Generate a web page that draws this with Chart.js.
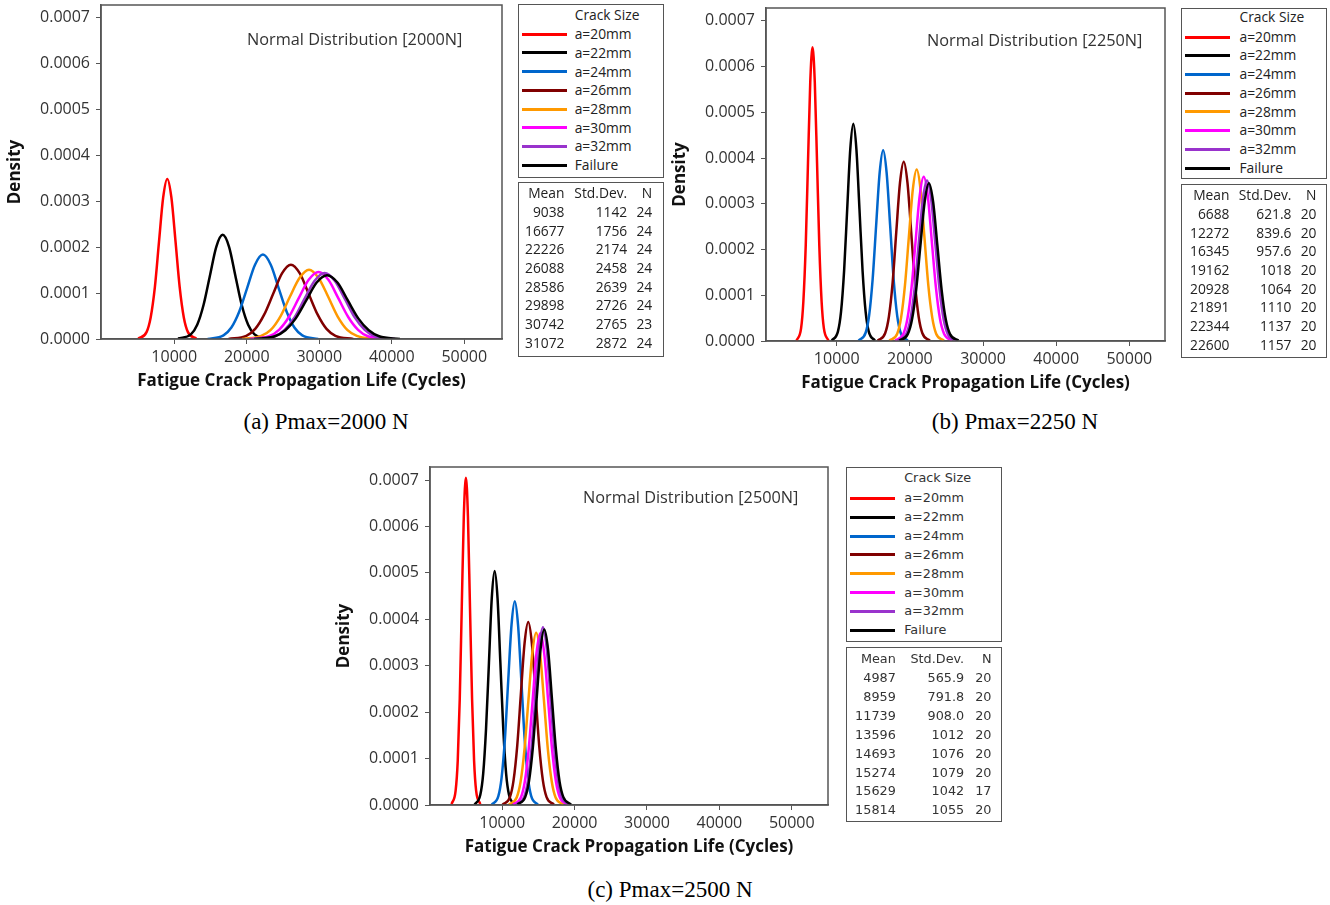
<!DOCTYPE html>
<html lang="en">
<head>
<meta charset="UTF-8">
<title>Normal Distribution - Fatigue Crack Propagation Life</title>
<script src="https://cdn.jsdelivr.net/npm/chart.js"></script>
<style>
    html, body { margin: 0; padding: 0; background: #fff; }
    body { width: 1330px; height: 905px; position: relative; overflow: hidden; font-family: "Open Sans", sans-serif; }
    canvas { position: absolute; }
    .note { position: absolute; font-size: 16.3px; color: #333; white-space: nowrap; line-height: 20px; }
    .box { position: absolute; border: 1.5px solid #555; box-sizing: border-box; background: #fff; }
    .cell { position: absolute; height: 18px; line-height: 18px; font-size: 13.8px; color: #222; white-space: nowrap; }
    .sw { position: absolute; height: 3px; }
    .caption { position: absolute; font-family: "Liberation Serif", serif; font-size: 23px; color: #000; white-space: nowrap; transform: translate(-50%, -50%); }
</style>
</head>
<body>

<canvas id="chart2000" width="515" height="400" style="left:0px; top:0px;"></canvas>
<canvas id="chart2250" width="515" height="402" style="left:665px; top:0px;"></canvas>
<canvas id="chart2500" width="515" height="405" style="left:329px; top:461px;"></canvas>

<div class="note" style="left:247px; top:29px;">Normal Distribution [2000N]</div>
<div class="note" style="left:927px; top:30px;">Normal Distribution [2250N]</div>
<div class="note" style="left:583px; top:487px;">Normal Distribution [2500N]</div>

<div id="legend2000" class="box" style="left:517.7px; top:4px; width:146.3px; height:174.3px;"></div>
<div id="table2000" class="box" style="left:517.7px; top:182.3px; width:146.3px; height:174.4px;"></div>
<div id="legend2250" class="box" style="left:1181.3px; top:7.7px; width:145.7px; height:171.6px;"></div>
<div id="table2250" class="box" style="left:1181.3px; top:184.3px; width:145.7px; height:174px;"></div>
<div id="legend2500" class="box" style="left:846px; top:466.7px; width:156px; height:175.3px;"></div>
<div id="table2500" class="box" style="left:846px; top:646.7px; width:156px; height:175px;"></div>

<div class="caption" style="left:326px; top:422px;">(a) Pmax=2000 N</div>
<div class="caption" style="left:1015px; top:422px;">(b) Pmax=2250 N</div>
<div class="caption" style="left:670px; top:890px;">(c) Pmax=2500 N</div>

<script>
// series names and tick values
const crackSizes = ['a=20mm', 'a=22mm', 'a=24mm', 'a=26mm', 'a=28mm', 'a=30mm', 'a=32mm', 'Failure'];
const xTicks = [10000, 20000, 30000, 40000, 50000];
const yTicks = [0, 0.0001, 0.0002, 0.0003, 0.0004, 0.0005, 0.0006, 0.0007];

// Pmax = 2000 N : cycles and density
const life2000 = [
    [5040, 6180, 6750, 7330, 7900, 8470, 9040, 9610, 10180, 10750, 11320, 11890, 13040],
    [10530, 12290, 13170, 14040, 14920, 15800, 16680, 17560, 18430, 19310, 20190, 21070, 22820],
    [14620, 16790, 17880, 18970, 20050, 21140, 22230, 23310, 24400, 25490, 26570, 27660, 29840],
    [17490, 19940, 21170, 22400, 23630, 24860, 26090, 27320, 28550, 29780, 31000, 32230, 34690],
    [19350, 21990, 23310, 24630, 25950, 27270, 28590, 29910, 31230, 32540, 33860, 35180, 37820],
    [20360, 23080, 24450, 25810, 27170, 28540, 29900, 31260, 32620, 33990, 35350, 36710, 39440],
    [21060, 23830, 25210, 26590, 27980, 29360, 30740, 32130, 33510, 34890, 36270, 37660, 40420],
    [21020, 23890, 25330, 26760, 28200, 29640, 31070, 32510, 33940, 35380, 36820, 38250, 41120]
];
const density2000 = [
    [0.000001, 0.000015, 0.000047, 0.000113, 0.000212, 0.000308, 0.000349, 0.000308, 0.000212, 0.000113, 0.000047, 0.000015, 0.000001],
    [0.000001, 0.000010, 0.000031, 0.000074, 0.000138, 0.000201, 0.000227, 0.000201, 0.000138, 0.000074, 0.000031, 0.000010, 0.000001],
    [0, 0.000008, 0.000025, 0.000060, 0.000111, 0.000162, 0.000184, 0.000162, 0.000111, 0.000060, 0.000025, 0.000008, 0],
    [0, 0.000007, 0.000022, 0.000053, 0.000098, 0.000143, 0.000162, 0.000143, 0.000098, 0.000053, 0.000022, 0.000007, 0],
    [0, 0.000007, 0.000020, 0.000049, 0.000092, 0.000133, 0.000151, 0.000133, 0.000092, 0.000049, 0.000020, 0.000007, 0],
    [0, 0.000006, 0.000020, 0.000048, 0.000089, 0.000129, 0.000146, 0.000129, 0.000089, 0.000048, 0.000020, 0.000006, 0],
    [0, 0.000006, 0.000020, 0.000047, 0.000088, 0.000127, 0.000144, 0.000127, 0.000088, 0.000047, 0.000020, 0.000006, 0],
    [0, 0.000006, 0.000019, 0.000045, 0.000084, 0.000123, 0.000139, 0.000123, 0.000084, 0.000045, 0.000019, 0.000006, 0]
];
const mean2000 = ['9038', '16677', '22226', '26088', '28586', '29898', '30742', '31072'];
const std2000 = ['1142', '1756', '2174', '2458', '2639', '2726', '2765', '2872'];
const n2000 = ['24', '24', '24', '24', '24', '24', '23', '24'];

// Pmax = 2250 N
const life2250 = [
    [4510, 5130, 5440, 5760, 6070, 6380, 6690, 7000, 7310, 7620, 7930, 8240, 8860],
    [9330, 10170, 10590, 11010, 11430, 11850, 12270, 12690, 13110, 13530, 13950, 14370, 15210],
    [12990, 13950, 14430, 14910, 15390, 15870, 16345, 16820, 17300, 17780, 18260, 18740, 19700],
    [15600, 16620, 17130, 17640, 18140, 18650, 19160, 19670, 20180, 20690, 21200, 21710, 22730],
    [17200, 18270, 18800, 19330, 19860, 20400, 20930, 21460, 21990, 22520, 23060, 23590, 24650],
    [18010, 19120, 19670, 20230, 20780, 21340, 21890, 22450, 23000, 23560, 24110, 24670, 25780],
    [18360, 19500, 20070, 20640, 21210, 21780, 22340, 22910, 23480, 24050, 24620, 25190, 26320],
    [18550, 19710, 20290, 20860, 21440, 22020, 22600, 23180, 23760, 24340, 24910, 25490, 26650]
];
const density2250 = [
    [0.000001, 0.000028, 0.000087, 0.000208, 0.000389, 0.000566, 0.000642, 0.000566, 0.000389, 0.000208, 0.000087, 0.000028, 0.000001],
    [0.000001, 0.000021, 0.000064, 0.000154, 0.000288, 0.000419, 0.000475, 0.000419, 0.000288, 0.000154, 0.000064, 0.000021, 0.000001],
    [0.000001, 0.000018, 0.000056, 0.000135, 0.000253, 0.000368, 0.000417, 0.000368, 0.000253, 0.000135, 0.000056, 0.000018, 0.000001],
    [0.000001, 0.000017, 0.000053, 0.000127, 0.000238, 0.000346, 0.000392, 0.000346, 0.000238, 0.000127, 0.000053, 0.000017, 0.000001],
    [0.000001, 0.000016, 0.000051, 0.000122, 0.000227, 0.000331, 0.000375, 0.000331, 0.000227, 0.000122, 0.000051, 0.000016, 0.000001],
    [0.000001, 0.000016, 0.000049, 0.000117, 0.000218, 0.000317, 0.000359, 0.000317, 0.000218, 0.000117, 0.000049, 0.000016, 0.000001],
    [0.000001, 0.000015, 0.000047, 0.000114, 0.000213, 0.000310, 0.000351, 0.000310, 0.000213, 0.000114, 0.000047, 0.000015, 0.000001],
    [0.000001, 0.000015, 0.000047, 0.000112, 0.000209, 0.000304, 0.000345, 0.000304, 0.000209, 0.000112, 0.000047, 0.000015, 0.000001]
];
const mean2250 = ['6688', '12272', '16345', '19162', '20928', '21891', '22344', '22600'];
const std2250 = ['621.8', '839.6', '957.6', '1018', '1064', '1110', '1137', '1157'];
const n2250 = ['20', '20', '20', '20', '20', '20', '20', '20'];

// Pmax = 2500 N
const life2500 = [
    [3010, 3570, 3860, 4140, 4420, 4700, 4990, 5270, 5550, 5840, 6120, 6400, 6970],
    [6190, 6980, 7380, 7770, 8170, 8560, 8960, 9360, 9750, 10150, 10540, 10940, 11730],
    [8560, 9470, 9920, 10380, 10830, 11290, 11740, 12190, 12650, 13100, 13560, 14010, 14920],
    [10050, 11070, 11570, 12080, 12580, 13090, 13600, 14100, 14610, 15110, 15620, 16130, 17140],
    [10930, 12000, 12540, 13080, 13620, 14160, 14690, 15230, 15770, 16310, 16850, 17380, 18460],
    [11500, 12580, 13120, 13660, 14200, 14730, 15270, 15810, 16350, 16890, 17430, 17970, 19050],
    [11980, 13020, 13550, 14070, 14590, 15110, 15630, 16150, 16670, 17190, 17710, 18230, 19280],
    [12120, 13180, 13700, 14230, 14760, 15290, 15810, 16340, 16870, 17400, 17920, 18450, 19510]
];
const density2500 = [
    [0.000002, 0.000031, 0.000095, 0.000229, 0.000428, 0.000622, 0.000705, 0.000622, 0.000428, 0.000229, 0.000095, 0.000031, 0.000002],
    [0.000001, 0.000022, 0.000068, 0.000164, 0.000306, 0.000445, 0.000504, 0.000445, 0.000306, 0.000164, 0.000068, 0.000022, 0.000001],
    [0.000001, 0.000019, 0.000059, 0.000143, 0.000267, 0.000388, 0.000439, 0.000388, 0.000267, 0.000143, 0.000059, 0.000019, 0.000001],
    [0.000001, 0.000017, 0.000053, 0.000128, 0.000239, 0.000348, 0.000394, 0.000348, 0.000239, 0.000128, 0.000053, 0.000017, 0.000001],
    [0.000001, 0.000016, 0.000050, 0.000120, 0.000225, 0.000327, 0.000371, 0.000327, 0.000225, 0.000120, 0.000050, 0.000016, 0.000001],
    [0.000001, 0.000016, 0.000050, 0.000120, 0.000224, 0.000326, 0.000370, 0.000326, 0.000224, 0.000120, 0.000050, 0.000016, 0.000001],
    [0.000001, 0.000017, 0.000052, 0.000124, 0.000232, 0.000338, 0.000383, 0.000338, 0.000232, 0.000124, 0.000052, 0.000017, 0.000001],
    [0.000001, 0.000017, 0.000051, 0.000123, 0.000229, 0.000334, 0.000378, 0.000334, 0.000229, 0.000123, 0.000051, 0.000017, 0.000001]
];
const mean2500 = ['4987', '8959', '11739', '13596', '14693', '15274', '15629', '15814'];
const std2500 = ['565.9', '791.8', '908.0', '1012', '1076', '1079', '1042', '1055'];
const n2500 = ['20', '20', '20', '20', '20', '20', '17', '20'];

const lineColors = ['#ff0000', '#000000', '#0066cc', '#800000', '#ff9900', '#ff00ff', '#9933cc', '#000000'];

// box around the plot area
const frame = {
    id: 'frame',
    afterDraw(chart) {
        const { ctx, chartArea: a } = chart;
        ctx.save();
        ctx.strokeStyle = '#555';
        ctx.lineWidth = 1.5;
        ctx.strokeRect(a.left, a.top, a.right - a.left, a.bottom - a.top);
        ctx.restore();
    }
};

function makeChart(id, life, density, opt) {
    const datasets = crackSizes.map((name, i) => ({
        label: name,
        data: life[i].map((x, j) => ({ x: x, y: density[i][j] })),
        borderColor: lineColors[i],
        borderWidth: 2.5,
        pointRadius: 0,
        fill: false,
        cubicInterpolationMode: 'monotone',
        order: crackSizes.length - 1 - i
    }));
    const tickFont = { family: 'Open Sans', size: 16 };
    const titleFont = { family: 'Open Sans', size: 17, weight: 'bold' };
    new Chart(document.getElementById(id), {
        type: 'line',
        data: { datasets: datasets },
        options: {
            responsive: false,
            animation: false,
            layout: { padding: { top: opt.padTop, right: opt.padRight, left: 0, bottom: 0 } },
            plugins: { legend: { display: false }, tooltip: { enabled: false } },
            scales: {
                x: {
                    type: 'linear', min: opt.xMin, max: opt.xMax,
                    afterBuildTicks: s => { s.ticks = xTicks.map(v => ({ value: v })); },
                    afterFit: s => { s.height = 61; s.paddingLeft = 0; s.paddingRight = 0; },
                    grid: { drawOnChartArea: false, tickLength: 5, color: '#555' },
                    border: { color: '#555', width: 1.5 },
                    ticks: { padding: 4, color: '#333', font: tickFont, autoSkip: false, maxRotation: 0, callback: v => String(v) },
                    title: { display: true, text: 'Fatigue Crack Propagation Life (Cycles)', color: '#111', font: titleFont, padding: { top: 0, bottom: 9 } }
                },
                y: {
                    min: 0, max: 0.000728,
                    afterBuildTicks: s => { s.ticks = yTicks.map(v => ({ value: v })); },
                    afterFit: s => { s.width = 101; s.paddingTop = 0; s.paddingBottom = 0; },
                    grid: { drawOnChartArea: false, tickLength: 5, color: '#555' },
                    border: { color: '#555', width: 1.5 },
                    ticks: { padding: 6, color: '#333', font: tickFont, callback: v => v.toFixed(4) },
                    title: { display: true, text: 'Density', color: '#111', font: titleFont, padding: { top: 5, bottom: 0 } }
                }
            }
        },
        plugins: [frame]
    });
}

function cell(parent, text, left, centerY, align, width, font) {
    const d = document.createElement('div');
    d.className = 'cell';
    d.textContent = text;
    d.style.top = (centerY - 9) + 'px';
    if (align === 'right') { d.style.left = (left - width) + 'px'; d.style.width = width + 'px'; d.style.textAlign = 'right'; }
    else d.style.left = left + 'px';
    if (font) { d.style.fontFamily = font.family; d.style.fontSize = font.size + 'px'; d.style.color = font.color; }
    parent.appendChild(d);
}

function buildLegend(id, L) {
    const box = document.getElementById(id);
    cell(box, 'Crack Size', L.textX, L.headY, 'left', 0, L.font);
    crackSizes.forEach((name, i) => {
        const y = L.firstY + i * L.step;
        const s = document.createElement('div');
        s.className = 'sw';
        s.style.left = L.sw[0] + 'px';
        s.style.width = (L.sw[1] - L.sw[0]) + 'px';
        s.style.top = Math.round(y - 1.5) + 'px';
        s.style.background = lineColors[i];
        box.appendChild(s);
        cell(box, name, L.textX, y, 'left', 0, L.font);
    });
}

function buildTable(id, means, stds, ns, T) {
    const box = document.getElementById(id);
    const head = ['Mean', 'Std.Dev.', 'N'];
    head.forEach((h, c) => cell(box, h, T.cols[c], T.headY, 'right', 70, T.font));
    means.forEach((m, i) => {
        const y = T.firstY + i * T.step;
        cell(box, m, T.cols[0], y, 'right', 70, T.font);
        cell(box, stds[i], T.cols[1], y, 'right', 70, T.font);
        cell(box, ns[i], T.cols[2], y, 'right', 30, T.font);
    });
}

makeChart('chart2000', life2000, density2000, { padTop: 5, padRight: 13, xMin: -100, xMax: 55200 });
makeChart('chart2250', life2250, density2250, { padTop: 8, padRight: 15, xMin: 330, xMax: 54880 });
makeChart('chart2500', life2500, density2500, { padTop: 6, padRight: 16, xMin: 30, xMax: 55000 });

const fontC = { family: 'DejaVu Sans', size: 12.8, color: '#333' };
buildLegend('legend2000', { headY: 10.2, firstY: 29.2, step: 18.71, sw: [3, 48], textX: 56 });
buildTable('table2000', mean2000, std2000, n2000, { headY: 9.5, firstY: 28.5, step: 18.71, cols: [45.8, 108.5, 133.5] });
buildLegend('legend2250', { headY: 8.1, firstY: 28.1, step: 18.71, sw: [3.2, 48.2], textX: 57.2 });
buildTable('table2250', mean2250, std2250, n2250, { headY: 9.9, firstY: 28.5, step: 18.71, cols: [47.2, 109.2, 134.2] });
buildLegend('legend2500', { headY: 10.1, firstY: 30.1, step: 18.95, sw: [2.8, 47.8], textX: 57.2, font: fontC });
buildTable('table2500', mean2500, std2500, n2500, { headY: 11.1, firstY: 30.1, step: 18.95, cols: [48.8, 117.2, 144.5], font: fontC });
</script>
</body>
</html>
